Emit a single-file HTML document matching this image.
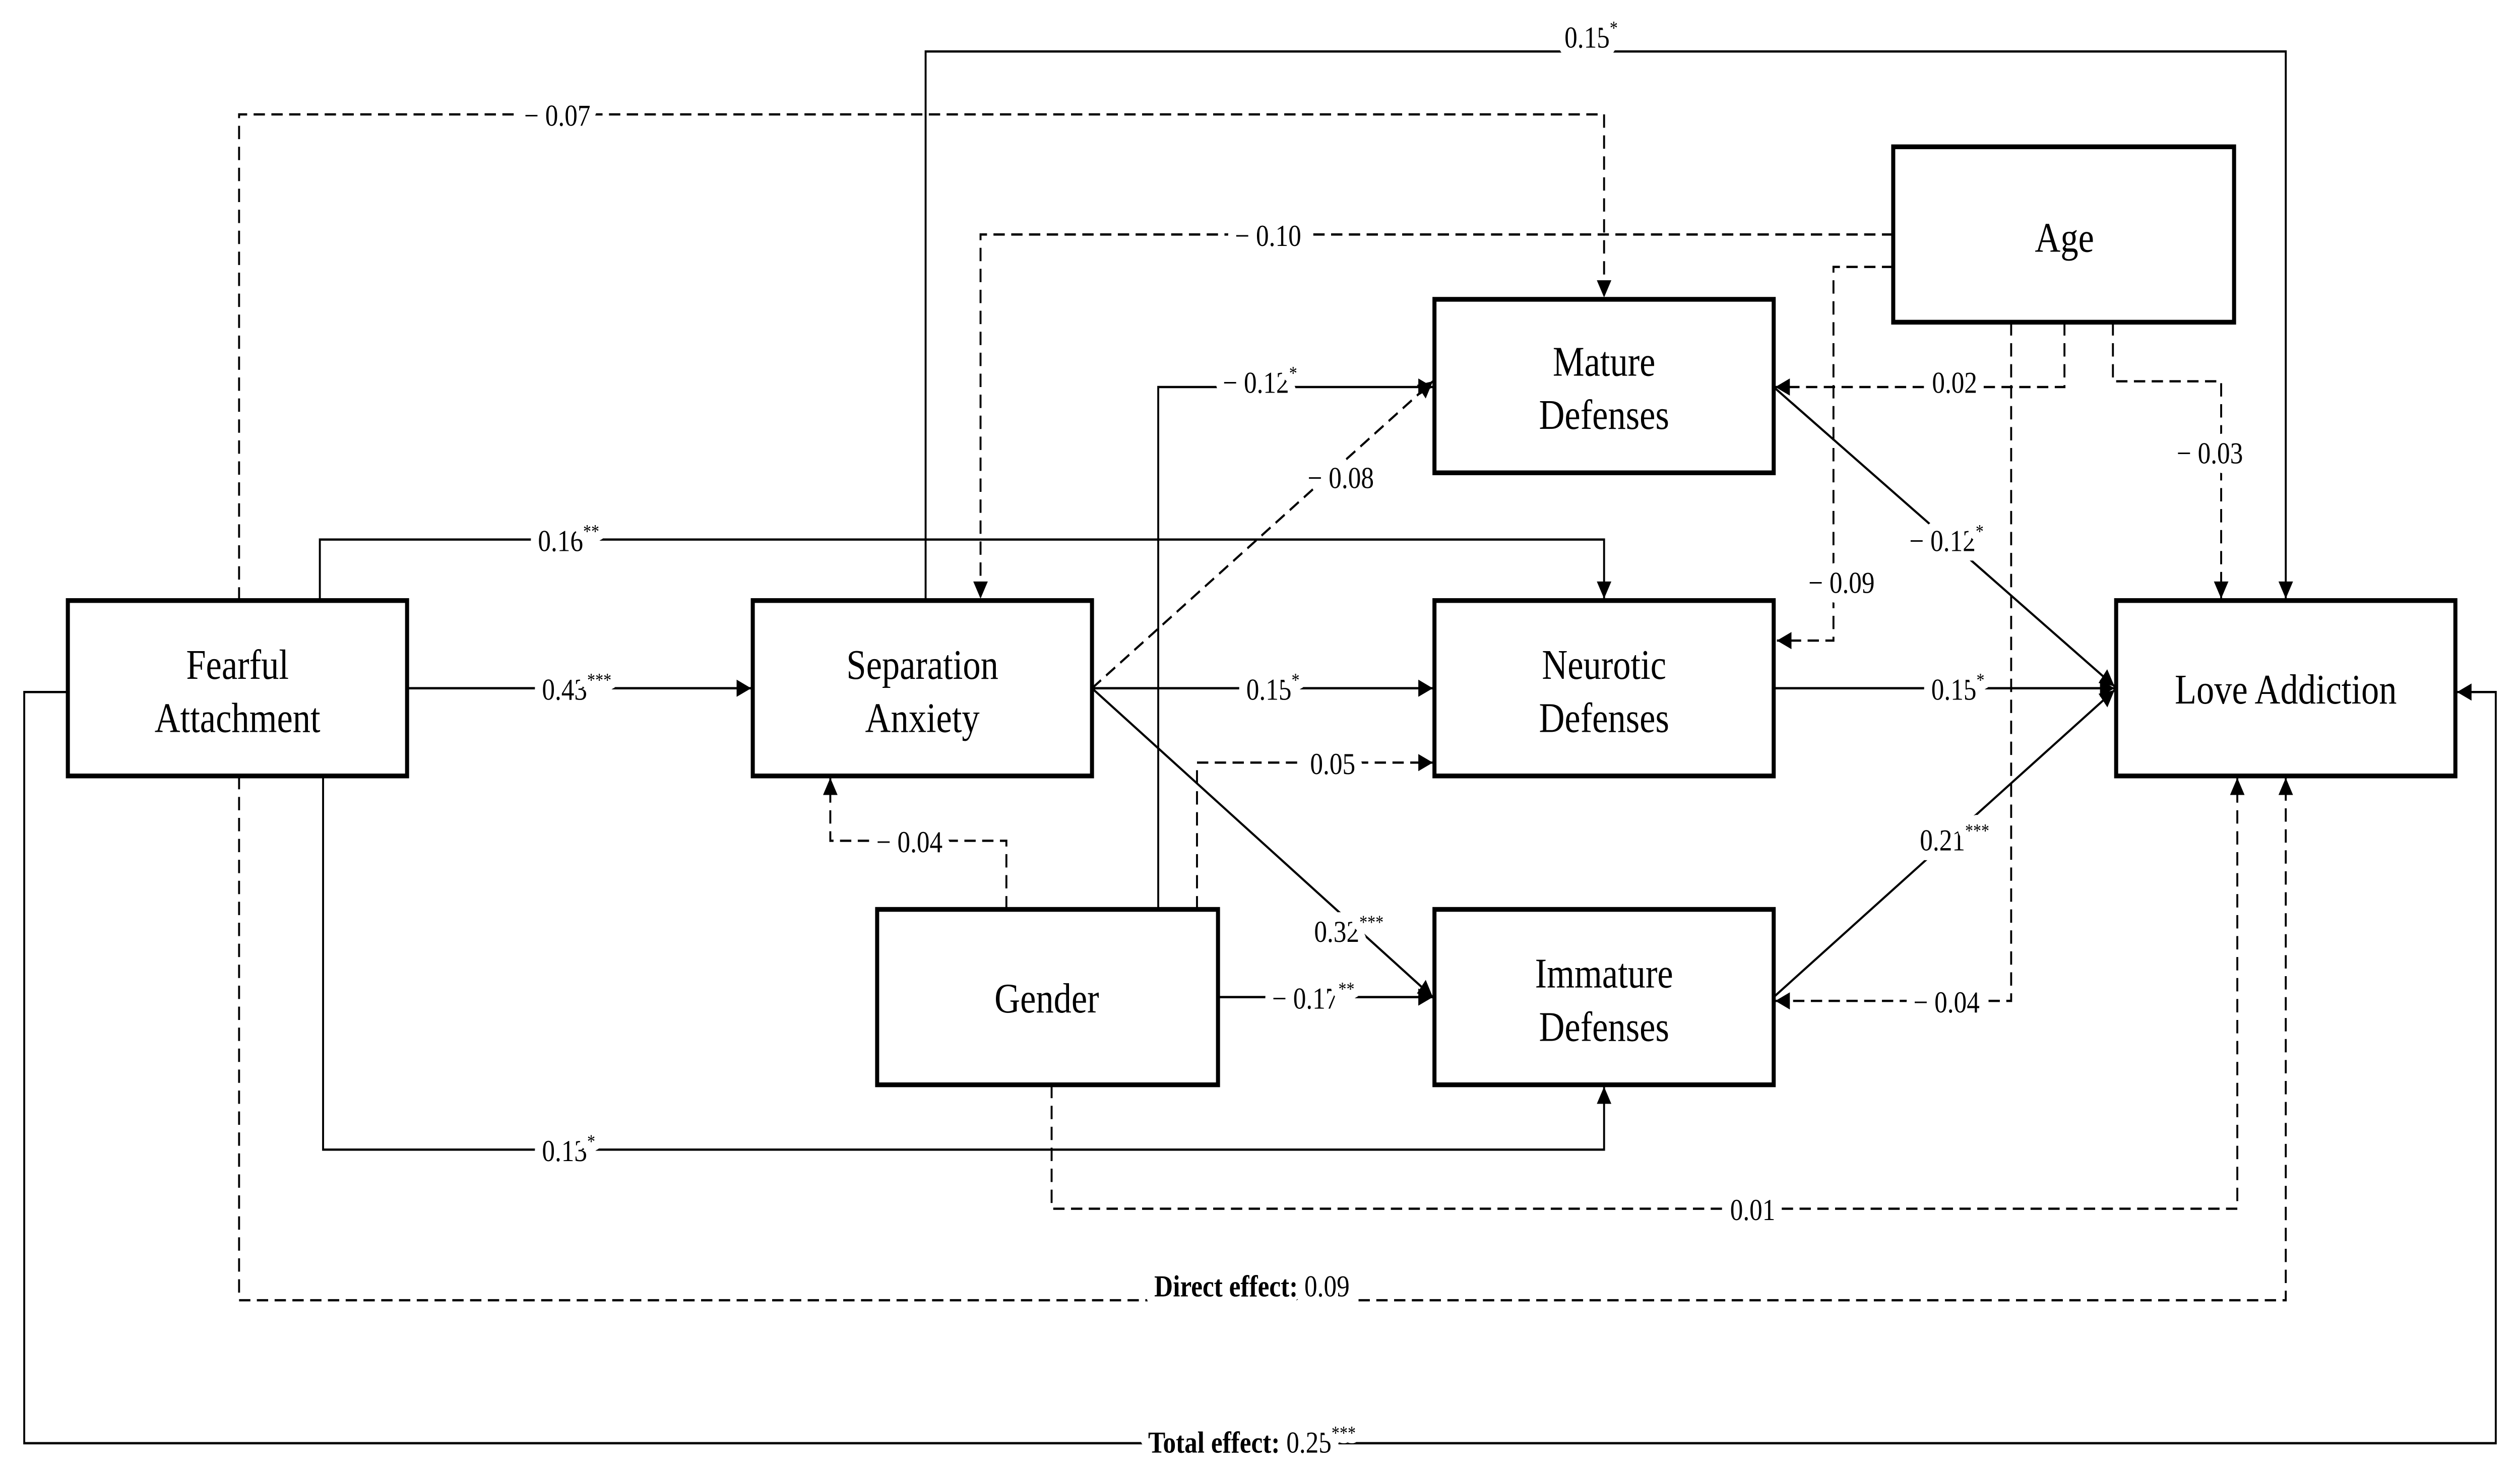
<!DOCTYPE html>
<html><head><meta charset="utf-8"><style>
html,body{margin:0;padding:0;background:#fff;width:100%;height:100%;overflow:hidden;}
svg{display:block;position:absolute;left:0;top:0;width:100vw;height:100vh;}
text{font-family:"Liberation Serif",serif;fill:#000;}
.n{font-size:22px;text-anchor:middle;}
.l{font-size:16px;text-anchor:middle;stroke:#fff;stroke-width:10px;paint-order:stroke;stroke-linejoin:round;}
.s{font-size:10px;}
</style></head><body>
<svg viewBox="0 0 1560 770" preserveAspectRatio="none" xmlns="http://www.w3.org/2000/svg">
<defs>
<marker id="a" viewBox="0 0 10 10" refX="10" refY="5" markerWidth="10" markerHeight="9" markerUnits="userSpaceOnUse" orient="auto">
<path d="M0,0 L10,5 L0,10 z" fill="#000"/></marker>
</defs>
<g fill="none" stroke="#000" stroke-width="1.2">
<polyline points="573,315 573,27 1415,27 1415,314" marker-end="url(#a)"/>
<polyline points="198,315 198,283 993,283 993,314" marker-end="url(#a)"/>
<line x1="252" y1="361" x2="465" y2="361" marker-end="url(#a)"/>
<polyline points="200,407 200,603 993,603 993,570" marker-end="url(#a)"/>
<polyline points="42,363 15,363 15,757 1545,757 1545,363 1521,363" marker-end="url(#a)"/>
<polyline points="717,477 717,203 887,203" marker-end="url(#a)"/>
<line x1="676" y1="361" x2="887" y2="361" marker-end="url(#a)"/>
<line x1="676" y1="361" x2="887" y2="523" marker-end="url(#a)"/>
<line x1="754" y1="523" x2="887" y2="523" marker-end="url(#a)"/>
<line x1="1098" y1="203" x2="1309" y2="360" marker-end="url(#a)"/>
<line x1="1098" y1="361" x2="1309" y2="361" marker-end="url(#a)"/>
<line x1="1098" y1="523" x2="1309" y2="362" marker-end="url(#a)"/>
</g>
<g fill="none" stroke="#000" stroke-width="1.2" stroke-dasharray="7,4">
<polyline points="148,315 148,60 993,60 993,156" marker-end="url(#a)"/>
<polyline points="1172,123 607,123 607,314" marker-end="url(#a)"/>
<polyline points="1172,140 1135,140 1135,336 1100,336" marker-end="url(#a)"/>
<polyline points="1278,169 1278,203 1099,203" marker-end="url(#a)"/>
<polyline points="1245,169 1245,525 1099,525" marker-end="url(#a)"/>
<polyline points="1308,169 1308,200 1375,200 1375,314" marker-end="url(#a)"/>
<polyline points="148,407 148,682 1415,682 1415,408" marker-end="url(#a)"/>
<polyline points="651,569 651,634 1385,634 1385,408" marker-end="url(#a)"/>
<line x1="676" y1="361" x2="887" y2="200" marker-end="url(#a)"/>
<polyline points="741,477 741,400 887,400" marker-end="url(#a)"/>
<polyline points="623,477 623,441 514,441 514,408" marker-end="url(#a)"/>
</g>
<g fill="#fff" stroke="#000" stroke-width="2.5">
<rect x="42" y="315" width="210" height="92"/>
<rect x="466" y="315" width="210" height="92"/>
<rect x="888" y="157" width="210" height="91"/>
<rect x="888" y="315" width="210" height="92"/>
<rect x="888" y="477" width="210" height="92"/>
<rect x="1172" y="77" width="211" height="92"/>
<rect x="543" y="477" width="211" height="92"/>
<rect x="1310" y="315" width="210" height="92"/>
</g>
<text class="n" x="147" y="356">Fearful</text><text class="n" x="147" y="384">Attachment</text>
<text class="n" x="571" y="356">Separation</text><text class="n" x="571" y="384">Anxiety</text>
<text class="n" x="993" y="197">Mature</text><text class="n" x="993" y="225">Defenses</text>
<text class="n" x="993" y="356">Neurotic</text><text class="n" x="993" y="384">Defenses</text>
<text class="n" x="993" y="518">Immature</text><text class="n" x="993" y="546">Defenses</text>
<text class="n" x="1278" y="132">Age</text>
<text class="n" x="648" y="531">Gender</text>
<text class="n" x="1415" y="369">Love Addiction</text>
<text class="l" x="985" y="25">0.15<tspan class="s" dy="-7">*</tspan></text>
<text class="l" x="345" y="66">− 0.07</text>
<text class="l" x="785" y="129">− 0.10</text>
<text class="l" x="1140" y="311">− 0.09</text>
<text class="l" x="1210" y="206">0.02</text>
<text class="l" x="1205" y="531">− 0.04</text>
<text class="l" x="1368" y="243">− 0.03</text>
<text class="l" x="352" y="289">0.16<tspan class="s" dy="-7">**</tspan></text>
<text class="l" x="357" y="367">0.43<tspan class="s" dy="-7">***</tspan></text>
<text class="l" x="352" y="609">0.13<tspan class="s" dy="-7">*</tspan></text>
<text class="l" x="780" y="206">− 0.12<tspan class="s" dy="-7">*</tspan></text>
<text class="l" x="830" y="256">− 0.08</text>
<text class="l" x="788" y="367">0.15<tspan class="s" dy="-7">*</tspan></text>
<text class="l" x="835" y="494">0.32<tspan class="s" dy="-7">***</tspan></text>
<text class="l" x="825" y="406">0.05</text>
<text class="l" x="563" y="447">− 0.04</text>
<text class="l" x="813" y="529">− 0.17<tspan class="s" dy="-7">**</tspan></text>
<text class="l" x="1205" y="289">− 0.12<tspan class="s" dy="-7">*</tspan></text>
<text class="l" x="1212" y="367">0.15<tspan class="s" dy="-7">*</tspan></text>
<text class="l" x="1210" y="446">0.21<tspan class="s" dy="-7">***</tspan></text>
<text class="l" x="1085" y="640">0.01</text>
<text class="l" x="775" y="680"><tspan font-weight="bold">Direct effect:</tspan> 0.09</text>
<text class="l" x="775" y="762"><tspan font-weight="bold">Total effect:</tspan> 0.25<tspan class="s" dy="-7">***</tspan></text>
</svg>
</body></html>
